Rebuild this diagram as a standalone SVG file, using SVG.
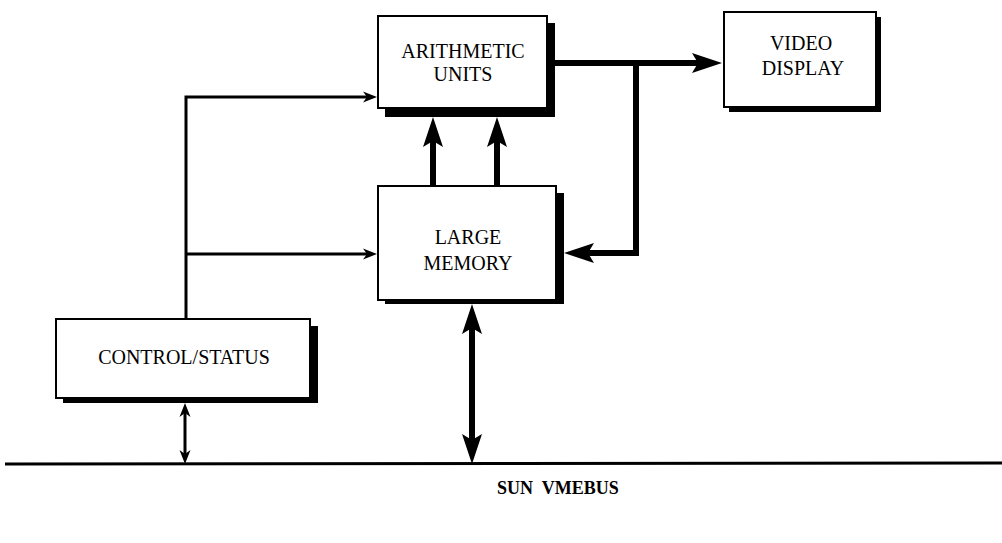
<svg xmlns="http://www.w3.org/2000/svg" width="1002" height="543" viewBox="0 0 1002 543">
<style>
.box{fill:#fff;stroke:#000;stroke-width:2}
.shadow{fill:#000}
.lbl{font-family:"Liberation Serif","Times New Roman",serif;font-size:20px;fill:#000;text-anchor:middle}
.bus{font-family:"Liberation Serif","Times New Roman",serif;font-size:18px;font-weight:bold;fill:#000;white-space:pre}
.thin{fill:none;stroke:#000;stroke-width:3}
.thick{fill:none;stroke:#000;stroke-width:6}
</style>
<defs>
<path id="hThick" d="M0,0 L-30,-10 L-24,0 L-30,10 Z" fill="#000"/>
<path id="hThin" d="M0,0 L-14,-5.5 L-10,0 L-14,5.5 Z" fill="#000"/>
</defs>
<rect width="1002" height="543" fill="#fff"/>
<g id="arithmetic">
<rect class="shadow" x="385" y="23" width="170" height="94"/>
<rect class="box" x="378" y="16" width="169" height="92"/>
<text class="lbl" x="463" y="58">ARITHMETIC</text>
<text class="lbl" x="463" y="81">UNITS</text>
</g>
<g id="video">
<rect class="shadow" x="729" y="17" width="152" height="95"/>
<rect class="box" x="724" y="12" width="152" height="95"/>
<text class="lbl" x="801" y="50">VIDEO</text>
<text class="lbl" x="803" y="75">DISPLAY</text>
</g>
<g id="memory">
<rect class="shadow" x="385" y="193" width="179" height="111"/>
<rect class="box" x="378" y="186" width="178" height="114"/>
<text class="lbl" x="468" y="244">LARGE</text>
<text class="lbl" x="468" y="270">MEMORY</text>
</g>
<g id="control">
<rect class="shadow" x="63" y="326" width="255" height="77"/>
<rect class="box" x="56" y="319" width="254" height="79"/>
<text class="lbl" x="184" y="364">CONTROL/STATUS</text>
</g>
<g id="connectors">
<polyline class="thin" points="186,319 186,97 368,97"/>
<use href="#hThin" x="377" y="97"/>
<line class="thin" x1="186" y1="254" x2="368" y2="254"/>
<use href="#hThin" x="377" y="254"/>
<line class="thin" x1="185" y1="412" x2="185" y2="455"/>
<use href="#hThin" transform="translate(185,403) rotate(-90)"/>
<use href="#hThin" transform="translate(185,464) rotate(90)"/>
<line class="thick" x1="433" y1="186" x2="433" y2="140"/>
<use href="#hThick" transform="translate(433,117) rotate(-90)"/>
<line class="thick" x1="497" y1="186" x2="497" y2="140"/>
<use href="#hThick" transform="translate(497,117) rotate(-90)"/>
<line class="thick" x1="555" y1="63" x2="698" y2="63"/>
<use href="#hThick" x="722" y="63"/>
<polyline class="thick" points="636,60 636,253 588,253"/>
<use href="#hThick" transform="translate(564,253) rotate(180)"/>
<line class="thick" x1="472" y1="328" x2="472" y2="441"/>
<use href="#hThick" transform="translate(472,304) rotate(-90)"/>
<use href="#hThick" transform="translate(472,464) rotate(90)"/>
<line x1="5" y1="464" x2="1002" y2="463" stroke="#000" stroke-width="3"/>
</g>
<text class="bus" x="497" y="494" xml:space="preserve">SUN  VMEBUS</text>
</svg>
